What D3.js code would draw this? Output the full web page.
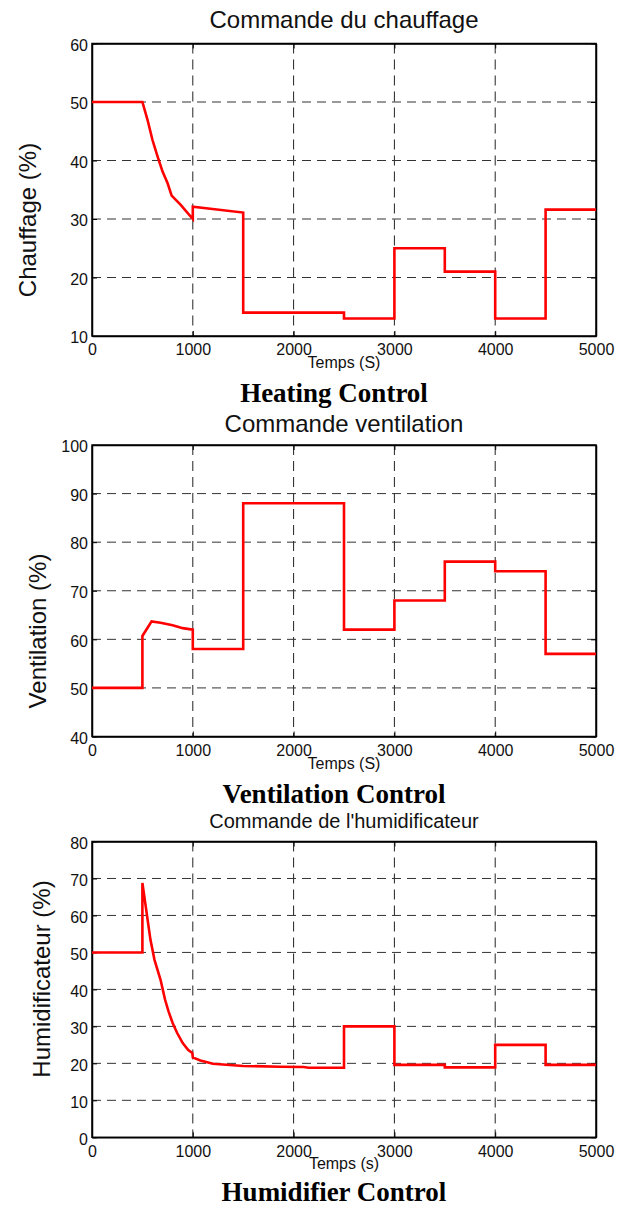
<!DOCTYPE html>
<html>
<head>
<meta charset="utf-8">
<script src="https://cdn.jsdelivr.net/npm/d3@7"></script>
<style>
  body { margin: 0; background: #fff; }
  svg { display: block; }
  .tick text { font-family: "Liberation Sans", Arial, sans-serif; font-size: 16px; fill: #111; }
</style>
</head>
<body>
<div id="chart"></div>
<script>
/* Data */
const TIME_TICKS = [0, 1000, 2000, 3000, 4000, 5000];

const HEAT_TIME  = [0, 500, 550, 600, 650, 700, 750, 790, 880, 1000, 1000, 1500, 1500, 2500, 2500, 3000, 3000, 3500, 3500, 4000, 4000, 4500, 4500, 5000];
const HEAT_VALUE = [50, 50, 47, 43.5, 40.7, 38.1, 36.1, 34, 32.4, 30, 32.1, 31.1, 14, 14, 13, 13, 25, 25, 21, 21, 13, 13, 31.6, 31.6];
const HEAT_TICKS = [10, 20, 30, 40, 50, 60];

const VENT_TIME  = [0, 500, 500, 567, 591, 680, 800, 900, 1000, 1000, 1500, 1500, 2500, 2500, 3000, 3000, 3500, 3500, 4000, 4000, 4500, 4500, 5000];
const VENT_VALUE = [50, 50, 60.7, 62.9, 63.7, 63.4, 62.9, 62.3, 62, 58, 58, 88, 88, 62, 62, 68, 68, 76, 76, 74, 74, 57, 57];
const VENT_TICKS = [40, 50, 60, 70, 80, 90, 100];

const HUM_TIME  = [0, 500, 500, 580, 620, 680, 725, 760, 800, 845, 900, 955, 995, 1000, 1075, 1200, 1500, 1870, 2100, 2150, 2500, 2500, 3000, 3000, 3500, 3500, 4000, 4000, 4500, 4500, 5000];
const HUM_VALUE = [50, 50, 68.8, 53.4, 48, 42.6, 37.2, 34, 30.9, 28.2, 25.5, 23.6, 22.8, 21.6, 20.8, 19.9, 19.3, 19.1, 19, 18.8, 18.8, 30, 30, 19.6, 19.6, 18.9, 18.9, 25, 25, 19.6, 19.6];
const HUM_TICKS = [0, 10, 20, 30, 40, 50, 60, 70, 80];

const TITLES   = ["Commande du chauffage", "Commande ventilation", "Commande de l'humidificateur"];
const Y_LABELS = ["Chauffage (%)", "Ventilation (%)", "Humidificateur (%)"];
const X_LABELS = ["Temps (S)", "Temps (S)", "Temps (s)"];
const CAPTIONS = ["Heating Control", "Ventilation Control", "Humidifier Control"];

const SERIES = [
  { time: HEAT_TIME, value: HEAT_VALUE, ticks: HEAT_TICKS },
  { time: VENT_TIME, value: VENT_VALUE, ticks: VENT_TICKS },
  { time: HUM_TIME, value: HUM_VALUE, ticks: HUM_TICKS }
];

/* Layout */
const WIDTH = 625
const HEIGHT = 1207
const LEFT = 92
const RIGHT = 596
const CENTER_X = 344
const CAPTION_X = 334
const LAYOUT = [
  { top: 43.5, bottom: 336, titleY: 28.3, titleSize: 24, yLabelX: 36, yLabelY: 220, captionY: 401.5 },
  { top: 445, bottom: 736.5, titleY: 431.7, titleSize: 24, yLabelX: 45.5, yLabelY: 631, captionY: 802.5 },
  { top: 841.5, bottom: 1137.3, titleY: 828.3, titleSize: 20, yLabelX: 50, yLabelY: 979, captionY: 1201 }
];
const SANS = '"Liberation Sans", Arial, sans-serif'
const SERIF = '"Liberation Serif", "Times New Roman", serif'

const svg = d3.select("#chart")
              .append("svg")
              .attr("width", WIDTH)
              .attr("height", HEIGHT);
svg.append("rect").attr("width", WIDTH).attr("height", HEIGHT).attr("fill", "#fff");

const drawPanel = (s, i) => {
  const lay = LAYOUT[i];
  const xScale = d3.scaleLinear().domain([0, 5000]).range([LEFT, RIGHT]);
  const yScale = d3.scaleLinear().domain(d3.extent(s.ticks)).range([lay.bottom, lay.top]);
  const g = svg.append("g");

  // dashed grid
  g.selectAll(".vgrid")
   .data(TIME_TICKS.slice(1, -1))
   .enter().append("line")
   .attr("x1", (d) => xScale(d)).attr("x2", (d) => xScale(d))
   .attr("y1", lay.top).attr("y2", lay.bottom)
   .attr("stroke", "#222").attr("stroke-width", 1).attr("stroke-dasharray", "10,6");
  g.selectAll(".hgrid")
   .data(s.ticks.slice(1, -1))
   .enter().append("line")
   .attr("x1", LEFT).attr("x2", RIGHT)
   .attr("y1", (d) => yScale(d)).attr("y2", (d) => yScale(d))
   .attr("stroke", "#333").attr("stroke-width", 1).attr("stroke-dasharray", "9,6");

  // axes, ticks pointing inwards
  const xAxis = d3.axisBottom(xScale).tickValues(TIME_TICKS).tickFormat(d3.format("d"))
                  .tickSizeInner(-5).tickSizeOuter(0).tickPadding(8);
  const yAxis = d3.axisLeft(yScale).tickValues(s.ticks).tickFormat(d3.format("d"))
                  .tickSizeInner(-5).tickSizeOuter(0).tickPadding(4);
  g.append("g").attr("transform", "translate(0," + lay.bottom + ")").call(xAxis);
  g.append("g").attr("transform", "translate(0," + lay.top + ")")
   .call(d3.axisTop(xScale).tickValues(TIME_TICKS).tickSizeInner(-5).tickSizeOuter(0).tickFormat(""));
  g.append("g").attr("transform", "translate(" + LEFT + ",0)").call(yAxis)
   .selectAll("text").attr("dy", "0.42em");
  g.append("g").attr("transform", "translate(" + RIGHT + ",0)")
   .call(d3.axisRight(yScale).tickValues(s.ticks).tickSizeInner(-5).tickSizeOuter(0).tickFormat(""));
  g.selectAll(".domain").attr("stroke", "#000").attr("stroke-width", 1.5);
  g.selectAll(".tick line").attr("stroke", "#000");

  g.append("rect")
   .attr("x", LEFT).attr("y", lay.top)
   .attr("width", RIGHT - LEFT).attr("height", lay.bottom - lay.top)
   .attr("fill", "none").attr("stroke", "#000").attr("stroke-width", 1.5);

  // the control signal
  const points = s.time.map((t, k) => [t, s.value[k]]);
  const line = d3.line().x((d) => xScale(d[0])).y((d) => yScale(d[1]));
  g.append("path")
   .datum(points)
   .attr("d", line)
   .attr("fill", "none")
   .attr("stroke", "#ff0000")
   .attr("stroke-width", 2.6)
   .attr("stroke-linejoin", "miter");

  // texts
  g.append("text")
   .attr("x", CENTER_X).attr("y", lay.titleY)
   .attr("text-anchor", "middle")
   .style("font-family", SANS).style("font-size", lay.titleSize + "px").attr("fill", "#111")
   .text(TITLES[i]);
  g.append("text")
   .attr("transform", "translate(" + lay.yLabelX + "," + lay.yLabelY + ") rotate(-90)")
   .attr("text-anchor", "middle")
   .style("font-family", SANS).style("font-size", "24px").attr("fill", "#111")
   .text(Y_LABELS[i]);
  g.append("text")
   .attr("x", CENTER_X).attr("y", lay.bottom + 32)
   .attr("text-anchor", "middle")
   .style("font-family", SANS).style("font-size", "16px").attr("fill", "#111")
   .text(X_LABELS[i]);
  g.append("text")
   .attr("x", CAPTION_X).attr("y", lay.captionY)
   .attr("text-anchor", "middle")
   .style("font-family", SERIF).style("font-size", "27px").style("font-weight", "bold").attr("fill", "#000")
   .text(CAPTIONS[i]);
}

SERIES.forEach(drawPanel);
</script>
</body>
</html>
